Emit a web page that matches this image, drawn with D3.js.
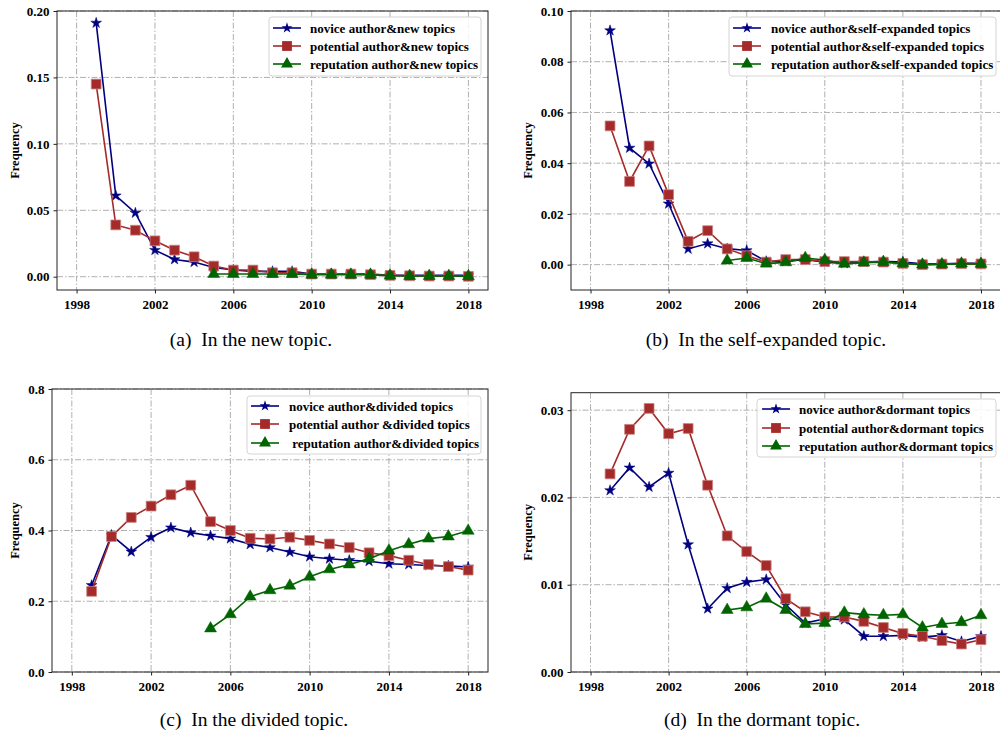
<!DOCTYPE html>
<html>
<head>
<meta charset="utf-8">
<script src="https://cdn.jsdelivr.net/npm/d3@7"></script>
<style>
  body { margin: 0; background: #fff; }
</style>
</head>
<body>
<div id="chart"></div>
<script>
// years on the x axis
var years = [1999, 2000, 2001, 2002, 2003, 2004, 2005, 2006, 2007, 2008,
             2009, 2010, 2011, 2012, 2013, 2014, 2015, 2016, 2017, 2018];
var repYears = [2005, 2006, 2007, 2008, 2009, 2010, 2011, 2012, 2013, 2014,
                2015, 2016, 2017, 2018];
var xTicks = [1998, 2002, 2006, 2010, 2014, 2018];

// (a) new topics
var newNovice = [0.191, 0.061, 0.048, 0.020, 0.013, 0.011, 0.007, 0.005, 0.004, 0.004,
                 0.004, 0.002, 0.002, 0.002, 0.002, 0.001, 0.001, 0.001, 0.001, 0.001];
var newPotential = [0.145, 0.039, 0.035, 0.027, 0.020, 0.015, 0.008, 0.005, 0.005, 0.003,
                    0.003, 0.002, 0.002, 0.002, 0.0015, 0.001, 0.0007, 0.0005, 0.0005, 0.0003];
var newReputation = [0.002, 0.002, 0.002, 0.002, 0.002, 0.0015, 0.0015, 0.0015, 0.0015, 0.0008,
                     0.0005, 0.0005, 0.0005, 0.0003];

// (b) self-expanded topics
var selfNovice = [0.0923, 0.046, 0.0398, 0.024, 0.0062, 0.0083, 0.0063, 0.0056, 0.0013, 0.0013,
                  0.002, 0.001, 0.0005, 0.001, 0.0013, 0.001, 0.0003, 0.0003, 0.0005, 0.0005];
var selfPotential = [0.0547, 0.0328, 0.0468, 0.0276, 0.0092, 0.0134, 0.0062, 0.0035, 0.001, 0.002,
                     0.002, 0.0012, 0.0012, 0.0012, 0.001, 0.0005, 0.0, 0.0002, 0.0004, 0.0003];
var selfReputation = [0.0016, 0.0026, 0.0004, 0.0009, 0.0026, 0.0018, 0.0003, 0.0008, 0.001, 0.0005,
                      0.0, 0.0001, 0.0004, 0.0003];

// (c) divided topics
var divNovice = [0.245, 0.387, 0.340, 0.381, 0.408, 0.394, 0.385, 0.377, 0.361, 0.352,
                 0.339, 0.326, 0.320, 0.316, 0.313, 0.306, 0.304, 0.301, 0.300, 0.297];
var divPotential = [0.228, 0.383, 0.437, 0.469, 0.501, 0.528, 0.425, 0.400, 0.378, 0.376,
                    0.381, 0.372, 0.362, 0.352, 0.337, 0.329, 0.316, 0.304, 0.298, 0.288];
var divReputation = [0.123, 0.163, 0.213, 0.231, 0.244, 0.269, 0.290, 0.304, 0.320, 0.343,
                     0.361, 0.377, 0.383, 0.399];

// (d) dormant topics
var dormNovice = [0.0208, 0.0234, 0.0212, 0.0228, 0.0146, 0.00725, 0.0096, 0.0103, 0.0106, 0.0077,
                  0.0056, 0.0061, 0.0060, 0.0041, 0.0041, 0.0042, 0.0040, 0.0042, 0.0035, 0.0041];
var dormPotential = [0.0227, 0.0278, 0.0302, 0.0273, 0.0279, 0.0214, 0.0156, 0.0138, 0.0122, 0.0084,
                     0.0069, 0.0063, 0.0063, 0.0058, 0.0051, 0.0044, 0.0041, 0.0036, 0.0032, 0.0037];
var dormReputation = [0.0071, 0.0074, 0.0084, 0.0071, 0.0055, 0.0056, 0.0068, 0.0066, 0.0065, 0.0066,
                      0.0051, 0.0055, 0.0057, 0.0065];

var colors = { novice: "#000080", potential: "#a52a2a", reputation: "#006400" };
var serif = "'Liberation Serif', 'Times New Roman', serif";

var svg = d3.select("#chart").append("svg")
    .attr("width", 1000)
    .attr("height", 737)
    .style("display", "block")
    .style("font-family", serif);

var panels = [
  { left: 57, right: 488, top: 11, bottom: 290, yDomain: [-0.01, 0.20], yTicks: [0, 0.05, 0.10, 0.15, 0.20], fmt: ".2f",
    labelX: 15,
    data: [newNovice, newPotential, newReputation],
    legend: ["novice author&new topics", "potential author&new topics", "reputation author&new topics"],
    lg: { x: 269, y: 17, w: 212, h: 59, lineX: 273, textX: 310, rows: [28, 46, 64] },
    caption: "(a)  In the new topic.", capX: 251, capY: 346 },
  { left: 571, right: 1000.5, top: 11, bottom: 290, yDomain: [-0.01, 0.10], yTicks: [0, 0.02, 0.04, 0.06, 0.08, 0.10], fmt: ".2f",
    labelX: 528,
    data: [selfNovice, selfPotential, selfReputation],
    legend: ["novice author&self-expanded topics", "potential author&self-expanded topics", "reputation author&self-expanded topics"],
    lg: { x: 729, y: 17, w: 267, h: 59, lineX: 733, textX: 771, rows: [28, 46, 64] },
    caption: "(b)  In the self-expanded topic.", capX: 766, capY: 346 },
  { left: 52, right: 488, top: 389, bottom: 672, yDomain: [0, 0.8], yTicks: [0, 0.2, 0.4, 0.6, 0.8], fmt: ".1f",
    labelX: 15,
    data: [divNovice, divPotential, divReputation],
    legend: ["novice author&divided topics", "potential author &divided topics", " reputation author&divided topics"],
    lg: { x: 247, y: 396, w: 234, h: 58, lineX: 251, textX: 289, rows: [406, 424, 443] },
    caption: "(c)  In the divided topic.", capX: 254, capY: 726 },
  { left: 571, right: 1000.5, top: 392.7, bottom: 672, yDomain: [0, 0.032], yTicks: [0, 0.01, 0.02, 0.03], fmt: ".2f",
    labelX: 528,
    data: [dormNovice, dormPotential, dormReputation],
    legend: ["novice author&dormant topics", "potential author&dormant topics", "reputation author&dormant topics"],
    lg: { x: 757, y: 399, w: 239, h: 58, lineX: 762, textX: 799, rows: [409, 428, 446] },
    caption: "(d)  In the dormant topic.", capX: 762, capY: 726 }
];

var keys = ["novice", "potential", "reputation"];
var symbols = [d3.symbolStar, d3.symbolSquare, d3.symbolTriangle];
var symSizes = [36, 96, 62];

function markerPath(i) {
  return d3.symbol().type(symbols[i]).size(symSizes[i])();
}

panels.forEach(function (p) {
  var x = d3.scaleLinear().domain([1997, 2019]).range([p.left, p.right]);
  var y = d3.scaleLinear().domain(p.yDomain).range([p.bottom, p.top]);
  var g = svg.append("g");

  // grid
  g.append("g").selectAll("line.vg").data(xTicks).enter().append("line")
      .attr("x1", function (d) { return x(d); })
      .attr("x2", function (d) { return x(d); })
      .attr("y1", p.top).attr("y2", p.bottom)
      .attr("stroke", "#b0b0b0").attr("stroke-width", 1)
      .attr("stroke-dasharray", "6,2,1.5,2");
  g.append("g").selectAll("line.hg").data(p.yTicks).enter().append("line")
      .attr("x1", p.left).attr("x2", p.right)
      .attr("y1", function (d) { return y(d); })
      .attr("y2", function (d) { return y(d); })
      .attr("stroke", "#b0b0b0").attr("stroke-width", 1)
      .attr("stroke-dasharray", "6,2,1.5,2");

  // series
  p.data.forEach(function (vals, i) {
    var xs = vals.length === years.length ? years : repYears;
    var pts = vals.map(function (v, j) { return [xs[j], v]; });
    var line = d3.line()
        .x(function (d) { return x(d[0]); })
        .y(function (d) { return y(d[1]); });
    g.append("path")
        .datum(pts)
        .attr("d", line)
        .attr("fill", "none")
        .attr("stroke", colors[keys[i]])
        .attr("stroke-width", 1.6);
    g.append("g").selectAll("path").data(pts).enter().append("path")
        .attr("d", markerPath(i))
        .attr("transform", function (d) { return "translate(" + x(d[0]) + "," + y(d[1]) + ")"; })
        .attr("fill", colors[keys[i]])
        .attr("stroke", i === 1 ? "#c98080" : colors[keys[i]])
        .attr("stroke-width", i === 1 ? 0.8 : 0.5);
  });

  // spines
  g.append("rect")
      .attr("x", p.left).attr("y", p.top)
      .attr("width", p.right - p.left).attr("height", p.bottom - p.top)
      .attr("fill", "none").attr("stroke", "#222").attr("stroke-width", 1);

  // axes
  var xAxis = d3.axisBottom(x).tickValues(xTicks).tickFormat(d3.format("d")).tickSize(3.5).tickPadding(6);
  var yAxis = d3.axisLeft(y).tickValues(p.yTicks).tickFormat(d3.format(p.fmt)).tickSize(3.5).tickPadding(4);
  var gx = g.append("g").attr("transform", "translate(0," + p.bottom + ")").call(xAxis);
  var gy = g.append("g").attr("transform", "translate(" + p.left + ",0)").call(yAxis);
  [gx, gy].forEach(function (ax) {
    ax.select(".domain").remove();
    ax.attr("font-family", serif).attr("font-size", 13);
    ax.selectAll(".tick line").attr("stroke", "#222");
    ax.selectAll(".tick text")
        .style("font-family", serif)
        .style("font-size", "13px")
        .style("font-weight", "bold")
        .attr("fill", "#000");
  });

  // y label
  g.append("text")
      .attr("transform", "translate(" + p.labelX + "," + ((p.top + p.bottom) / 2) + ") rotate(-90)")
      .attr("text-anchor", "middle")
      .attr("dy", "0.35em")
      .attr("font-weight", "bold")
      .attr("font-size", 12.5)
      .text("Frequency");

  // legend
  var lg = p.lg;
  g.append("rect")
      .attr("x", lg.x).attr("y", lg.y).attr("width", lg.w).attr("height", lg.h)
      .attr("rx", 3).attr("fill", "#fff").attr("fill-opacity", 0.85)
      .attr("stroke", "#d4d4d4").attr("stroke-width", 1);
  p.legend.forEach(function (name, i) {
    var ry = lg.rows[i];
    g.append("line")
        .attr("x1", lg.lineX).attr("x2", lg.lineX + 28)
        .attr("y1", ry).attr("y2", ry)
        .attr("stroke", colors[keys[i]]).attr("stroke-width", 1.6);
    g.append("path")
        .attr("d", markerPath(i))
        .attr("transform", "translate(" + (lg.lineX + 14) + "," + ry + ")")
        .attr("fill", colors[keys[i]]);
    g.append("text")
        .attr("x", lg.textX).attr("y", ry)
        .attr("dy", "0.35em")
        .attr("font-weight", "bold")
        .attr("font-size", 13)
        .style("white-space", "pre")
        .text(name);
  });

  // caption
  svg.append("text")
      .attr("x", p.capX).attr("y", p.capY)
      .attr("text-anchor", "middle")
      .attr("font-size", 19.5)
      .style("white-space", "pre")
      .text(p.caption);
});
</script>
</body>
</html>
